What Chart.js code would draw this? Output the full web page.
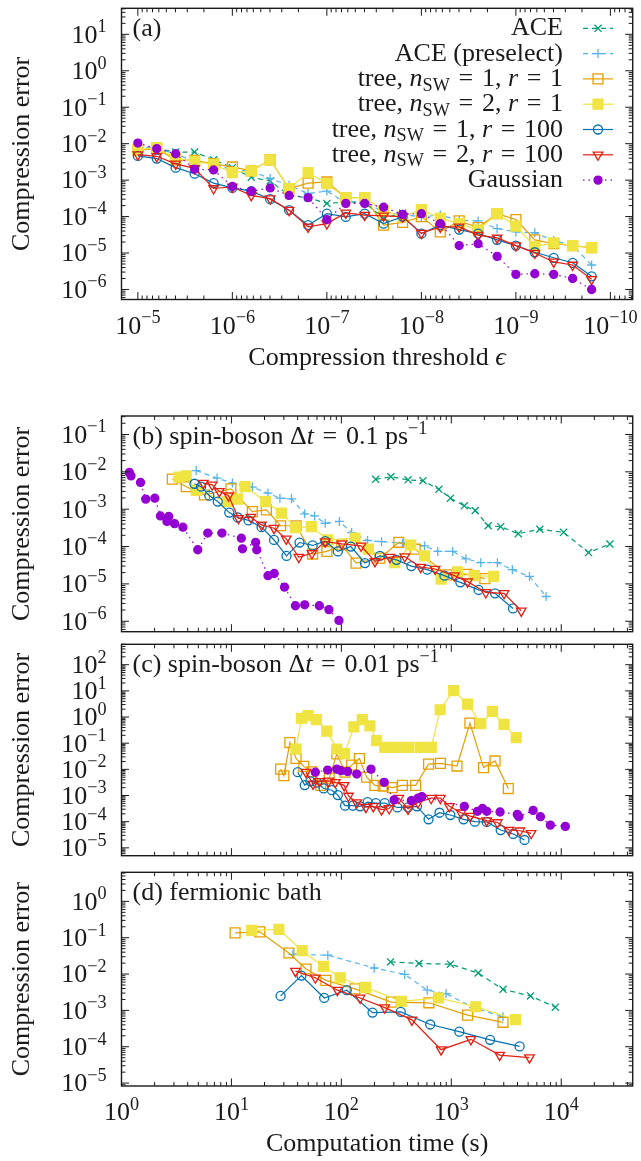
<!DOCTYPE html>
<html>
<head>
<meta charset="utf-8">
<script src="https://cdn.jsdelivr.net/npm/chart.js@4.4.1/dist/chart.umd.min.js"></script>
<style>
  body { margin: 0; background: #fff; }
  #wrap { position: relative; width: 641px; height: 1161px; }
  canvas { position: absolute; left: 0; }
</style>
</head>
<body>
<div id="wrap">
  <canvas id="pa" width="641" height="390" style="top:0px"></canvas>
  <canvas id="pb" width="641" height="244" style="top:396px"></canvas>
  <canvas id="pc" width="641" height="228" style="top:636px"></canvas>
  <canvas id="pd" width="641" height="297" style="top:864px"></canvas>
</div>
<script>
// ---- panel (a): error vs compression threshold ----
const epsA = [1e-5, 6.31e-6, 3.98e-6, 2.51e-6, 1.58e-6, 1e-6, 6.31e-7, 3.98e-7, 2.51e-7, 1.58e-7,
              1e-7, 6.31e-8, 3.98e-8, 2.51e-8, 1.58e-8, 1e-8, 6.31e-9, 3.98e-9, 2.51e-9, 1.58e-9,
              1e-9, 6.31e-10, 3.98e-10, 2.51e-10, 1.58e-10];
const aAce = [8.1e-3, 7.3e-3, 5.9e-3, 5.9e-3, 3.6e-3, 2.2e-3, 1.2e-3, 9.5e-4, 3.8e-4, 3.3e-4,
              2.3e-4, 2.5e-4, 2.4e-4, 9e-5, 1.25e-4];
const aAcePre = [9.0e-3, 7.3e-3, 5.3e-3, 3.2e-3, 2.8e-3, 1.9e-3, 1.8e-3, 1.1e-3, 7.2e-4, 4.3e-4,
                 5.0e-4, 2.4e-4, 2.8e-4, 1.25e-4, 1.15e-4, 9.8e-5, 1.1e-4, 7.9e-5, 7.6e-5, 4.7e-5,
                 3.8e-5, 3.6e-5, 2.2e-5, 1.6e-5, 4.7e-6];
const aTree11 = [6.6e-3, 7.3e-3, 3.6e-3, 3.5e-3, 2.8e-3, 2.3e-3, 1.8e-3, 3.6e-3, 5.9e-4, 8.3e-4,
                 8.9e-4, 3.3e-4, 3.3e-4, 5.8e-5, 6.9e-5, 1.0e-4, 3.8e-5, 7.6e-5, 5.0e-5, 1.2e-4,
                 8.3e-5, 2.3e-5, 1.8e-5, 1.6e-5, 1.4e-5];
const aTree21 = [6.9e-3, 7.8e-3, 3.9e-3, 3.3e-3, 2.7e-3, 1.6e-3, 1.8e-3, 3.6e-3, 5.9e-4, 1.6e-3,
                 8.0e-4, 3.3e-4, 3.3e-4, 1.45e-4, 9.8e-5, 1.56e-4, 9.1e-5, 6.4e-5, 4.3e-5, 1.2e-4,
                 5.5e-5, 1.5e-5, 1.9e-5, 1.6e-5, 1.4e-5];
const aTree1100 = [4.6e-3, 3.9e-3, 2.2e-3, 1.5e-3, 8.3e-4, 6.1e-4, 5.0e-4, 3.0e-4, 1.5e-4, 5.8e-5,
                   1.2e-4, 9.8e-5, 1.2e-4, 6.4e-5, 1.0e-4, 3.4e-5, 5.8e-5, 4.4e-5, 3.4e-5, 2.3e-5,
                   1.6e-5, 1.05e-5, 7.4e-6, 5.4e-6, 2.3e-6];
const aTree2100 = [5.0e-3, 4.5e-3, 2.8e-3, 2.1e-3, 5.9e-4, 6.5e-4, 3.8e-4, 3.1e-4, 1.5e-4, 5.2e-5,
                   6.4e-5, 1.26e-4, 1.1e-4, 1.05e-4, 1.0e-4, 3.5e-5, 5.2e-5, 5.2e-5, 3.1e-5, 2.6e-5,
                   1.6e-5, 1.0e-5, 5.7e-6, 4.7e-6, 1.9e-6];
const aGauss = [1.04e-2, 7.3e-3, 5.3e-3, 2.0e-3, 1.9e-3, 6.7e-4, 5.0e-4, 6.1e-4, 3.8e-4, 3.3e-4,
                8.3e-5, 2.3e-4, 2.3e-4, 1.8e-4, 1.15e-4, 1.2e-4, 6.4e-5, 1.6e-5, 1.8e-5, 8.1e-6,
                2.6e-6, 2.7e-6, 2.6e-6, 2.0e-6, 1.0e-6];

// ---- panel (b): spin-boson dt = 0.1 ----
const bAceT = [205, 282, 404, 552, 770, 982, 1313, 1650, 2163, 2812, 4064, 6380, 10500, 17700, 27700];
const bAceE = [6.3e-3, 7.4e-3, 6.1e-3, 5.8e-3, 3.4e-3, 1.97e-3, 1.23e-3, 9.2e-4, 3.6e-4, 3.4e-4,
               2.2e-4, 2.9e-4, 2.4e-4, 6.9e-5, 1.17e-4];
const bPreT = [4.78, 7.4, 10.2, 15.5, 21.5, 27.6, 35.2, 46.4, 57.1, 71.3, 96, 124, 173, 232, 359,
               571, 754, 1030, 1358, 1855, 2625, 3590, 5140, 7280];
const bPreE = [1.08e-2, 6.8e-3, 5.0e-3, 3.9e-3, 2.7e-3, 1.97e-3, 1.9e-3, 7.5e-4, 6.6e-4, 4.2e-4,
               4.7e-4, 2.36e-4, 1.45e-4, 1.35e-4, 1.23e-4, 1.04e-4, 7.4e-5, 7.4e-5, 4.7e-5, 3.7e-5,
               3.7e-5, 2.4e-5, 1.58e-5, 4.6e-6];
const bT11T = [2.90, 3.88, 5.68, 9.9, 15.5, 20.8, 28.0, 38.7, 54.8, 73.8, 101, 136, 224, 333, 470,
               915, 1387, 2017];
const bT11E = [6.4e-3, 4.0e-3, 2.4e-3, 3.5e-3, 8.6e-4, 9.6e-4, 3.6e-4, 3.6e-4, 6.3e-5, 7.4e-5,
               1.1e-4, 3.6e-5, 4.9e-5, 1.3e-4, 8.5e-5, 1.74e-5, 1.8e-5, 1.38e-5];
const bT21T = [3.33, 3.88, 4.78, 9.2, 11.4, 13.3, 20.5, 28.6, 38.3, 53.3, 75.4, 133, 176, 306, 427,
               571, 807, 1143, 1617, 2415];
const bT21E = [7.2e-3, 7.8e-3, 3.2e-3, 1.6e-3, 1.85e-3, 4.0e-3, 1.6e-3, 7.8e-4, 3.2e-4, 3.4e-4,
               1.5e-4, 1.67e-4, 8.5e-5, 3.7e-5, 1.1e-4, 5.6e-5, 1.34e-5, 2.1e-5, 1.66e-5, 1.58e-5];
const bT1100T = [4.61, 5.3, 6.3, 7.5, 9.55, 11.4, 14.3, 18.8, 24.4, 31.7, 41.6, 54.8, 71.3, 92.8,
                 122, 164, 224, 317, 433, 604, 866, 1209, 1770, 2500, 3640];
const bT1100E = [4.8e-3, 4.0e-3, 2.3e-3, 1.6e-3, 8.1e-4, 6.0e-4, 5.0e-4, 3.3e-4, 1.5e-4, 5.6e-5,
                 1.28e-4, 1.07e-4, 1.4e-4, 7.4e-5, 1.0e-4, 3.6e-5, 5.6e-5, 4.4e-5, 3.0e-5, 2.4e-5,
                 1.66e-5, 1.1e-5, 6.9e-6, 5.6e-6, 2.2e-6];
const bT2100T = [5.56, 6.67, 7.76, 9.4, 11.6, 15.0, 18.8, 24.4, 31.5, 41, 54, 71.3, 101, 151, 202,
                 276, 377, 526, 713, 1067, 1407, 2060, 3020, 4325];
const bT2100E = [5.0e-3, 4.5e-3, 3.0e-3, 2.3e-3, 5.7e-4, 6.1e-4, 3.8e-4, 3.1e-4, 1.6e-4, 5.2e-5,
                 6.6e-5, 1.35e-4, 1.18e-4, 1.04e-4, 4.0e-5, 5.2e-5, 5.4e-5, 2.8e-5, 2.5e-5, 1.66e-5,
                 1.15e-5, 5.9e-6, 5.6e-6, 1.9e-6];
const bGaussT = [1.18, 1.22, 1.49, 1.66, 2.01, 2.26, 2.59, 2.69, 3.04, 3.62, 4.94, 6.09, 8.2, 12.3,
                 12.6, 16.6, 17.0, 21.5, 24.5, 30.4, 38.2, 46.4, 63, 77, 95];
const bGaussE = [9.6e-3, 7.8e-3, 5.2e-3, 1.86e-3, 1.97e-3, 6.6e-4, 4.7e-4, 6.4e-4, 4.1e-4, 3.3e-4,
                 8.2e-5, 2.3e-4, 2.3e-4, 1.67e-4, 8.7e-5, 1.3e-4, 8.2e-5, 1.66e-5, 1.9e-5, 8.2e-6,
                 2.6e-6, 2.75e-6, 2.6e-6, 2.05e-6, 1.05e-6];

// ---- panel (c): spin-boson dt = 0.01 ----
const cT11T = [28, 30, 34, 38.7, 45.5, 54, 65, 77.6, 91, 108, 124, 146, 170, 202, 240, 290, 359, 474,
               621, 796, 1127, 1477, 1963, 2500, 3300];
const cT11E = [1.02e-2, 5.7e-3, 0.106, 2.6e-2, 1.3e-2, 8.1e-3, 2.45e-3, 4.6e-3, 3.9e-2, 7.8e-3,
               1.45e-2, 2.6e-2, 5.0e-3, 2.45e-3, 2.3e-3, 2.0e-3, 2.45e-3, 2.45e-3, 1.58e-2, 1.7e-2,
               1.34e-2, 0.59, 1.17e-2, 2.1e-2, 1.85e-3];
const cT21T = [38.7, 43.3, 49.8, 59.2, 73.8, 91, 107, 130, 155, 182, 209, 248, 290, 344, 410, 522,
               657, 791, 1051, 1407, 1855, 2364, 3014, 3896];
const cT21E = [6.0e-2, 0.90, 1.13, 0.80, 0.29, 6.0e-2, 4.0e-2, 0.42, 0.80, 0.46, 0.126, 6.9e-2,
               6.9e-2, 6.9e-2, 6.9e-2, 6.9e-2, 6.9e-2, 1.9, 10.2, 3.1, 0.56, 1.64, 0.52, 0.163];
const cT1100T = [40.1, 46.4, 52.3, 60, 68.9, 82, 92.9, 108, 127, 148, 173, 206, 248, 323, 404, 487,
                 621, 780, 980, 1294, 1637, 2102, 2812, 3660, 4634];
const cT1100E = [7.8e-3, 2.5e-3, 3.5e-3, 3.1e-3, 1.86e-3, 1.6e-3, 1.04e-3, 4.1e-4, 4.1e-4, 3.85e-4,
                 5.6e-4, 5.1e-4, 5.1e-4, 3.5e-4, 3.5e-4, 3.85e-4, 1.23e-4, 2.2e-4, 1.8e-4, 1.23e-4,
                 1.0e-4, 9.8e-5, 4.8e-5, 3.4e-5, 2.0e-5];
const cT2100T = [47.7, 55.2, 63, 76.6, 88, 106, 116, 138, 167, 195, 232, 272, 333, 404, 497, 656,
                 796, 961, 1225, 1487, 2102, 2625, 3342, 4204, 5320];
const cT2100E = [7.8e-3, 2.8e-3, 3.5e-3, 3.6e-3, 3.2e-3, 2.45e-3, 9.6e-4, 5.4e-4, 3.6e-4, 3.85e-4,
                 2.9e-4, 3.2e-4, 7.9e-4, 3.1e-4, 5.4e-4, 7.9e-4, 7.9e-4, 3.85e-4, 2.2e-4, 1.63e-4,
                 1.1e-4, 9.3e-5, 4.8e-5, 4.5e-5, 3.6e-5];
const cGaussT = [58, 75, 91, 99.5, 114, 138, 186, 245, 302, 433, 497, 540, 1313, 1730, 1922, 2102,
                 2775, 3980, 4120, 5550, 6470, 7960, 10890];
const cGaussE = [7.8e-3, 9.4e-3, 1.02e-2, 8.9e-3, 8.3e-3, 6.6e-3, 1.02e-2, 3.2e-3, 6.8e-4, 6.4e-4,
                 7.9e-4, 9.1e-4, 3.85e-4, 2.5e-4, 3.2e-4, 2.5e-4, 2.35e-4, 1.9e-4, 1.55e-4, 2.7e-4,
                 1.55e-4, 7.4e-5, 6.6e-5];

// ---- panel (d): fermionic bath ----
const dAceT = [280, 508, 982, 1755, 2950, 5250, 8830];
const dAceE = [2.16e-2, 1.95e-2, 1.87e-2, 1.07e-2, 3.8e-3, 2.5e-3, 1.23e-3];
const dPreT = [36.2, 75.3, 199, 377, 604, 896, 1592, 2950];
const dPreE = [3.5e-2, 3.3e-2, 1.47e-2, 9.8e-3, 3.6e-3, 2.9e-3, 1.19e-3, 6.7e-4];
const dT11T = [10.8, 18.1, 33.3, 47.7, 72.3, 133, 285, 625, 1407, 2950];
const dT11E = [0.136, 0.145, 3.8e-2, 1.38e-2, 6.7e-3, 3.9e-3, 1.69e-3, 1.62e-3, 7.4e-4, 4.7e-4];
const dT21T = [15.3, 27, 44, 68.9, 97.5, 166, 352, 764, 1670, 3845];
const dT21E = [0.16, 0.17, 4.4e-2, 1.62e-2, 7.9e-3, 4.3e-3, 1.78e-3, 2.2e-3, 1.26e-3, 5.6e-4];
const dT1100T = [28, 43.3, 69.8, 112, 192, 347, 643, 1183, 2254, 4180];
const dT1100E = [2.5e-3, 9.1e-3, 2.2e-3, 3.6e-3, 8.7e-4, 9.1e-4, 4.1e-4, 2.6e-4, 1.55e-4, 1.02e-4];
const dT2100T = [38.2, 58, 92, 148, 248, 438, 807, 1507, 2754, 5140];
const dT2100E = [1.2e-2, 7.9e-3, 3.6e-3, 2.2e-3, 1.19e-3, 5.5e-4, 8.3e-5, 1.6e-4, 5.9e-5, 5.0e-5];

// tick labels (powers of ten)
const aYExp = [1, 0, -1, -2, -3, -4, -5, -6];
const aXExp = [-5, -6, -7, -8, -9, -10];
const bYExp = [-1, -2, -3, -4, -5, -6];
const cYExp = [2, 1, 0, -1, -2, -3, -4, -5];
const dYExp = [0, -1, -2, -3, -4, -5];
const timeExp = [0, 1, 2, 3, 4];

// ---- styles ----
const FONT = "'Liberation Serif', 'DejaVu Serif', serif";
const FS = 26;
const INK = '#1a1a1a';
const EQ = '\u2004=\u2004';   // a bit wider than a plain space, like TeX math spacing

const styles = {
    ace:   { idx: 0, color: '#009e73', shape: 'crossRot', r: 5,   filled: false, dash: [5, 4] },
    pre:   { idx: 1, color: '#56b4e9', shape: 'cross',    r: 4.5, filled: false, dash: [5, 4] },
    t11:   { idx: 2, color: '#e69f00', shape: 'rect',     r: 7,   filled: false, dash: [] },
    t21:   { idx: 3, color: '#f0e442', shape: 'rect',     r: 7,   filled: true,  dash: [] },
    t1100: { idx: 4, color: '#0072b2', shape: 'circle',   r: 4.5, filled: false, dash: [] },
    t2100: { idx: 5, color: '#e51e10', shape: 'triangle', r: 5.5, filled: false, dash: [], rot: 180 },
    gauss: { idx: 6, color: '#9400d3', shape: 'circle',   r: 4,   filled: true,  dash: [1.5, 4] }
};

function treeRuns(n, r) {
    return [['tree, ', ''], ['n', 'i'], ['SW', 'sub'], [EQ + n + ', ', ''], ['r', 'i'], [EQ + r, '']];
}

const legendRows = [
    ['ace',   [['ACE', '']]],
    ['pre',   [['ACE (preselect)', '']]],
    ['t11',   treeRuns(1, 1)],
    ['t21',   treeRuns(2, 1)],
    ['t1100', treeRuns(1, 100)],
    ['t2100', treeRuns(2, 100)],
    ['gauss', [['Gaussian', '']]]
];

function ds(key, xs, ys) {
    const s = styles[key];
    const fill = s.filled ? s.color : 'rgba(0,0,0,0)';
    return {
        data: xs.map((x, i) => ({ x: x, y: ys[i] })),
        borderColor: s.color,
        backgroundColor: fill,
        pointBackgroundColor: fill,
        pointBorderColor: s.color,
        pointStyle: s.shape,
        pointRadius: s.r,
        pointHoverRadius: s.r,
        pointRotation: s.rot || 0,
        pointBorderWidth: 1.3,
        borderWidth: 1.2,
        borderDash: s.dash,
        tension: 0,
        fill: false,
        order: -s.idx
    };
}

// ---- text helpers ----
function fontFor(kind, size) {
    const s = (kind === 'sub' || kind === 'sup') ? size * 0.7 : size;
    return (kind === 'i' ? 'italic ' : '') + s + 'px ' + FONT;
}
function runsWidth(ctx, runs, size) {
    let w = 0;
    for (const [t, k] of runs) { ctx.font = fontFor(k, size); w += ctx.measureText(t).width; }
    return w;
}
function drawRuns(ctx, runs, x, y, size, align) {
    const w = runsWidth(ctx, runs, size);
    let cx = align === 'right' ? x - w : (align === 'center' ? x - w / 2 : x);
    ctx.textAlign = 'left';
    ctx.textBaseline = 'alphabetic';
    for (const [t, k] of runs) {
        ctx.font = fontFor(k, size);
        const dy = k === 'sup' ? -0.4 * size : (k === 'sub' ? 0.18 * size : 0);
        ctx.fillText(t, cx, y + dy);
        cx += ctx.measureText(t).width;
    }
}
function powRuns(e) {
    return [['10', ''], [(e < 0 ? '\u2212' : '') + Math.abs(e), 'sup']];
}

function logTicks(min, max) {
    const out = [];
    for (let e = Math.floor(Math.log10(min)); e <= Math.ceil(Math.log10(max)); e++) {
        for (let k = 1; k <= 9; k++) {
            const v = k * Math.pow(10, e);
            if (v >= min * 0.9999 && v <= max * 1.0001) out.push({ v: v, major: k === 1 });
        }
    }
    return out;
}

function drawMarker(ctx, s, x, y) {
    ctx.save();
    ctx.setLineDash([]);
    ctx.lineWidth = 1.3;
    ctx.strokeStyle = s.color;
    ctx.fillStyle = s.color;
    const r = s.r, h = r * Math.SQRT1_2;
    ctx.beginPath();
    if (s.shape === 'rect') {
        ctx.rect(x - h, y - h, 2 * h, 2 * h);
    } else if (s.shape === 'circle') {
        ctx.arc(x, y, r, 0, Math.PI * 2);
    } else if (s.shape === 'triangle') {
        const sx = r * Math.sin(Math.PI / 3);
        ctx.moveTo(x, y + r); ctx.lineTo(x - sx, y - r / 2); ctx.lineTo(x + sx, y - r / 2); ctx.closePath();
    } else if (s.shape === 'crossRot') {
        ctx.moveTo(x - h, y - h); ctx.lineTo(x + h, y + h);
        ctx.moveTo(x - h, y + h); ctx.lineTo(x + h, y - h);
    } else if (s.shape === 'cross') {
        ctx.moveTo(x - r, y); ctx.lineTo(x + r, y);
        ctx.moveTo(x, y - r); ctx.lineTo(x, y + r);
    }
    if (s.filled) ctx.fill();
    ctx.stroke();
    ctx.restore();
}

// what each panel prints besides its data
const panels = {
    pa: { yExp: aYExp, xExp: aXExp, label: [['(a)', '']],
          xTitle: [['Compression threshold ', ''], ['\u03f5', 'i']], legend: true },
    pb: { yExp: bYExp, xExp: null,
          label: [['(b) spin-boson \u0394', ''], ['t', 'i'], [EQ + '0.1 ps', ''], ['\u22121', 'sup']] },
    pc: { yExp: cYExp, xExp: null,
          label: [['(c) spin-boson \u0394', ''], ['t', 'i'], [EQ + '0.01 ps', ''], ['\u22121', 'sup']] },
    pd: { yExp: dYExp, xExp: timeExp, label: [['(d) fermionic bath', '']],
          xTitle: [['Computation time (s)', '']] }
};

const framePlugin = {
    id: 'frame',
    afterDraw(chart) {
        const p = panels[chart.canvas.id];
        const ctx = chart.ctx, a = chart.chartArea;
        const xs = chart.scales.x, ys = chart.scales.y;
        ctx.save();
        ctx.setLineDash([]);
        ctx.strokeStyle = INK;
        ctx.fillStyle = INK;

        // inward ticks on all four sides
        ctx.lineWidth = 1;
        ctx.beginPath();
        for (const t of logTicks(xs.min, xs.max)) {
            const px = xs.getPixelForValue(t.v), len = t.major ? 7.5 : 4;
            ctx.moveTo(px, a.bottom); ctx.lineTo(px, a.bottom - len);
            ctx.moveTo(px, a.top); ctx.lineTo(px, a.top + len);
        }
        for (const t of logTicks(ys.min, ys.max)) {
            const py = ys.getPixelForValue(t.v), len = t.major ? 7.5 : 4;
            ctx.moveTo(a.left, py); ctx.lineTo(a.left + len, py);
            ctx.moveTo(a.right, py); ctx.lineTo(a.right - len, py);
        }
        ctx.stroke();
        ctx.lineWidth = 1.4;
        ctx.strokeRect(a.left, a.top, a.right - a.left, a.bottom - a.top);

        // tick labels
        for (const e of p.yExp) {
            const py = ys.getPixelForValue(Math.pow(10, e));
            drawRuns(ctx, powRuns(e), a.left - 15, py + 0.32 * FS, FS, 'right');
        }
        if (p.xExp) {
            for (const e of p.xExp) {
                const px = xs.getPixelForValue(Math.pow(10, e));
                drawRuns(ctx, powRuns(e), px, a.bottom + 34, FS, 'center');
            }
        }
        if (p.xTitle) drawRuns(ctx, p.xTitle, (a.left + a.right) / 2, a.bottom + 65, FS, 'center');

        // y title
        ctx.save();
        ctx.translate(29, (a.top + a.bottom) / 2);
        ctx.rotate(-Math.PI / 2);
        drawRuns(ctx, [['Compression error', '']], 0, 0, FS, 'center');
        ctx.restore();

        // panel label
        drawRuns(ctx, p.label, a.left + 11, a.top + 28, FS, 'left');

        // key
        if (p.legend) {
            legendRows.forEach(([key, runs], i) => {
                const s = styles[key];
                const base = a.top + 27 + 25.3 * i;
                drawRuns(ctx, runs, 563, base, FS, 'right');
                const ly = base - 7;
                ctx.save();
                ctx.strokeStyle = s.color;
                ctx.lineWidth = 1.2;
                ctx.setLineDash(s.dash);
                ctx.beginPath();
                ctx.moveTo(583, ly); ctx.lineTo(613, ly);
                ctx.stroke();
                ctx.restore();
                drawMarker(ctx, s, 598, ly);
            });
        }
        ctx.restore();
    }
};

function makeChart(id, xRange, xReverse, yRange, pad, datasets) {
    return new Chart(document.getElementById(id), {
        type: 'line',
        data: { datasets: datasets },
        options: {
            responsive: false,
            animation: false,
            events: [],
            layout: { padding: pad },
            plugins: { legend: { display: false }, tooltip: { enabled: false } },
            scales: {
                x: { type: 'logarithmic', display: false, min: xRange[0], max: xRange[1], reverse: xReverse },
                y: { type: 'logarithmic', display: false, min: yRange[0], max: yRange[1] }
            }
        },
        plugins: [framePlugin]
    });
}

const timeRange = [1, Math.pow(10, 4.65)];

makeChart('pa', [Math.pow(10, -10.236), Math.pow(10, -4.827)], true,
    [Math.pow(10, -6.275), Math.pow(10, 1.714)],
    { left: 121.5, right: 4.5, top: 8.3, bottom: 90.5 },
    [ds('ace', epsA.slice(0, aAce.length), aAce), ds('pre', epsA, aAcePre),
     ds('t11', epsA, aTree11), ds('t21', epsA, aTree21),
     ds('t1100', epsA, aTree1100), ds('t2100', epsA, aTree2100), ds('gauss', epsA, aGauss)]);

makeChart('pb', timeRange, false, [Math.pow(10, -6.28), Math.pow(10, -0.505)],
    { left: 121.5, right: 4.5, top: 20, bottom: 7.7 },
    [ds('ace', bAceT, bAceE), ds('pre', bPreT, bPreE), ds('t11', bT11T, bT11E),
     ds('t21', bT21T, bT21E), ds('t1100', bT1100T, bT1100E), ds('t2100', bT2100T, bT2100E),
     ds('gauss', bGaussT, bGaussE)]);

makeChart('pc', timeRange, false, [Math.pow(10, -5.30), Math.pow(10, 2.78)],
    { left: 121.5, right: 4.5, top: 5.7, bottom: 5 },
    [ds('t11', cT11T, cT11E), ds('t21', cT21T, cT21E), ds('t1100', cT1100T, cT1100E),
     ds('t2100', cT2100T, cT2100E), ds('gauss', cGaussT, cGaussE)]);

makeChart('pd', timeRange, false, [Math.pow(10, -5.08), Math.pow(10, 0.80)],
    { left: 121.5, right: 4.5, top: 7, bottom: 75 },
    [ds('ace', dAceT, dAceE), ds('pre', dPreT, dPreE), ds('t11', dT11T, dT11E),
     ds('t21', dT21T, dT21E), ds('t1100', dT1100T, dT1100E), ds('t2100', dT2100T, dT2100E)]);
</script>
</body>
</html>
